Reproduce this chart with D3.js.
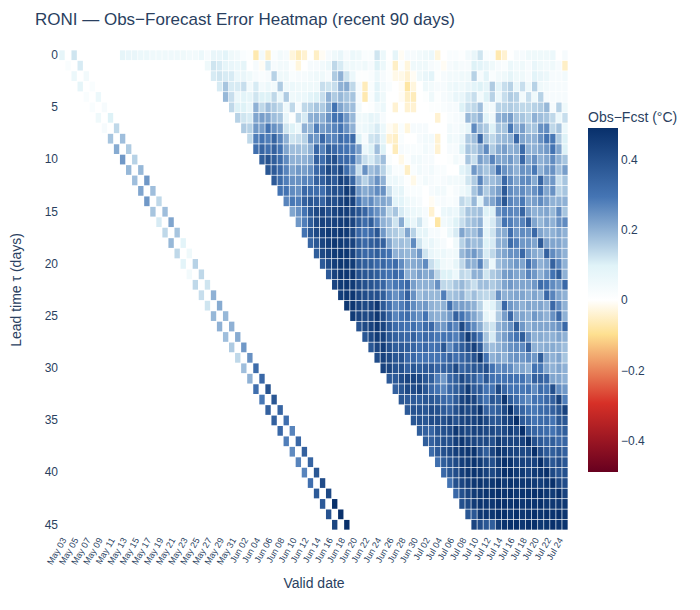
<!DOCTYPE html>
<html lang="en">
  <head>
    <meta charset="UTF-8" />
    <title>RONI Obs-Forecast Error Heatmap</title>
    <script src="https://d3js.org/d3.v7.min.js"></script>
    <style>
      html,
      body {
        margin: 0;
        padding: 0;
        background-color: #fff;
      }
      svg text {
        font-family: "Liberation Sans", Arial, sans-serif;
        fill: #2a3f5f;
      }
      .domain {
        display: none;
      }
    </style>
  </head>
  <body>
    <svg id="chart" width="700" height="610"></svg>

    <script>
      const validDates = [
        "May 03", "May 04", "May 05", "May 06", "May 07", "May 08", "May 09", "May 10", "May 11", "May 12",
        "May 13", "May 14", "May 15", "May 16", "May 17", "May 18", "May 19", "May 20", "May 21", "May 22",
        "May 23", "May 24", "May 25", "May 26", "May 27", "May 28", "May 29", "May 30", "May 31", "Jun 01",
        "Jun 02", "Jun 03", "Jun 04", "Jun 05", "Jun 06", "Jun 07", "Jun 08", "Jun 09", "Jun 10", "Jun 11",
        "Jun 12", "Jun 13", "Jun 14", "Jun 15", "Jun 16", "Jun 17", "Jun 18", "Jun 19", "Jun 20", "Jun 21",
        "Jun 22", "Jun 23", "Jun 24", "Jun 25", "Jun 26", "Jun 27", "Jun 28", "Jun 29", "Jun 30", "Jul 01",
        "Jul 02", "Jul 03", "Jul 04", "Jul 05", "Jul 06", "Jul 07", "Jul 08", "Jul 09", "Jul 10", "Jul 11",
        "Jul 12", "Jul 13", "Jul 14", "Jul 15", "Jul 16", "Jul 17", "Jul 18", "Jul 19", "Jul 20", "Jul 21",
        "Jul 22", "Jul 23", "Jul 24", "Jul 25",
      ];
      const leadTicks = [0, 5, 10, 15, 20, 25, 30, 35, 40, 45];
      const barTicks = [-0.4, -0.2, 0, 0.2, 0.4];

      // Errors below are in hundredths of a degree.
      // The two old forecast runs, one value per lead
      const runMay03 = [
        8, 2, 6, 8, 2, 2, 5, 3, 17, 21, 24, 19, 18, 22, 24, 17, 11, 14, 19, 14, 9, 4, 14,
        13, 12, 19, 20, 18, 16, 14, 18, 20, 31, 29, 35, 35, 33, 28, 26, 27, 27, 31, 37, 37, 39, 43,
      ];
      const runMay05 = [
        12, 11, 4, 2, 6, 3, 10, 14, 18, 16, 15, 19, 24, 18, 14, 18, 22, 17, 9, 5, 15, 14, 12,
        20, 21, 19, 20, 21, 24, 25, 32, 33, 39, 38, 34, 31, 27, 33, 35, 34, 38, 41, 42, 49, 49, 49,
      ];
      // Recent runs: one list per lead, the last value of each falls on the last date
      const leadRows = [
        [8,7,7,6,6,5,5,5,5,5,5,4,4,6,3,7,7,9,5,4,2,1,-7,4,-5,2,4,3,-3,-6,-4,0,-5,-1,3,5,7,3,6,5,2,2,12,6,0,8,-1,3,3,4,5,6,-3,0,2,2,1,4,7,12,2,2,-7,-4,0,3,3,5,5,5,5,6,0,3],
        [5,12,11,8,7,6,8,0,3,-1,11,3,4,4,1,-3,0,3,3,4,6,14,11,5,5,4,5,3,10,6,1,-5,1,-3,5,5,5,3,2,-1,3,4,3,3,10,9,7,5,3,2,6,4,5,3,7,5,4,5,3,-5],
        [11,12,11,11,6,7,5,3,2,3,15,5,5,2,3,3,4,5,5,3,16,20,12,6,1,1,2,6,3,1,-2,-2,-4,-1,5,7,9,1,3,4,4,5,5,15,3,9,2,4,5,8,5,5,3,9,7,6,3,3,4],
        [11,17,11,11,13,4,11,4,6,4,16,5,6,5,5,5,5,13,12,13,20,21,14,3,-6,2,9,4,2,0,-1,-8,-3,0,5,4,3,3,5,6,5,7,9,10,8,16,9,13,15,7,13,5,15,5,4,3,3,3],
        [19,13,6,9,8,12,10,10,14,6,16,5,6,6,9,10,13,20,16,19,17,17,3,-7,2,9,5,0,0,-1,-5,-6,0,1,5,1,3,4,7,7,11,13,4,10,15,6,13,16,15,4,13,5,15,3,3,3,3],
        [14,10,10,7,20,14,18,16,14,5,14,3,14,15,17,16,21,30,22,19,18,4,0,1,4,6,0,-4,0,-4,-4,0,0,1,1,2,3,3,10,13,14,18,5,4,15,15,16,15,14,14,15,16,19,3,15,5],
        [15,12,11,22,23,22,18,17,7,1,14,11,20,21,20,25,30,30,24,19,5,5,8,7,3,0,0,0,0,0,0,0,0,-4,0,2,3,4,19,17,20,9,5,20,21,23,17,17,15,20,18,17,14,6,13],
        [16,15,24,23,30,25,23,12,10,6,20,19,28,23,25,27,30,25,20,5,6,8,11,6,-1,-3,2,-3,3,3,3,0,0,0,4,3,5,8,26,18,16,10,17,17,29,20,23,17,17,25,26,14,17,6],
        [14,28,30,28,34,27,20,12,13,15,25,24,33,27,27,32,30,32,10,3,12,13,8,-4,-5,2,0,0,3,4,4,-4,0,5,4,7,16,18,33,17,14,18,19,20,33,22,20,20,25,30,29,16,10],
        [31,34,31,35,30,22,18,18,17,20,33,27,36,33,31,30,28,23,6,10,18,10,0,-6,3,2,2,2,4,3,-4,0,3,3,10,17,16,20,26,16,21,23,20,21,32,20,20,22,24,30,22,10],
        [36,39,36,32,26,20,20,20,22,35,31,38,40,33,33,30,20,13,11,15,18,2,0,-2,1,4,4,3,3,0,0,1,4,3,17,13,23,20,27,22,22,24,20,33,22,25,20,22,26,20,17],
        [38,37,33,27,22,24,23,25,33,35,42,38,42,32,25,13,25,18,20,15,7,2,2,-5,2,4,3,4,2,2,0,0,9,11,24,20,17,20,31,25,23,20,25,24,29,20,24,25,18,23],
        [37,32,28,25,25,27,27,35,35,40,37,44,42,34,20,15,20,25,20,6,6,4,1,-2,2,4,3,2,3,4,4,5,12,16,27,18,18,20,33,26,22,26,26,21,34,23,24,13,17],
        [30,30,26,25,33,32,32,31,38,40,40,46,42,24,21,23,26,25,13,7,8,2,2,2,0,3,4,4,1,3,5,8,17,23,16,20,23,37,26,24,26,23,25,30,22,25,15,17],
        [27,29,28,35,38,37,34,41,40,43,46,44,29,24,26,22,22,20,9,9,5,4,3,0,-1,2,3,2,3,14,12,19,9,20,22,27,38,27,25,29,22,23,26,23,20,20,20],
        [22,25,30,38,42,43,40,43,45,45,42,38,34,28,25,22,14,17,11,7,6,5,3,-4,0,6,7,6,12,17,17,18,10,10,25,28,27,26,34,23,20,21,22,19,26,17],
        [24,28,36,42,44,43,44,45,46,43,36,32,36,27,20,18,12,21,10,7,12,4,0,-8,4,6,10,13,17,18,20,7,11,18,30,28,25,27,35,22,19,22,20,25,26],
        [30,38,42,44,46,45,47,46,42,33,30,33,38,24,17,16,14,22,15,8,8,3,3,1,6,11,22,18,18,23,9,12,20,21,31,24,26,25,33,22,20,20,22,20],
        [34,38,43,45,47,46,45,44,36,33,36,37,35,22,17,18,17,26,12,6,7,4,3,0,5,15,20,18,19,10,11,20,21,32,28,24,24,22,37,23,22,22,20],
        [36,42,44,46,47,47,44,36,33,34,36,32,30,20,20,19,20,24,12,7,5,6,4,5,19,22,24,20,11,14,20,22,25,25,33,24,21,20,35,26,23,20],
        [37,42,45,47,47,46,38,36,36,33,34,30,32,26,21,21,22,26,13,10,5,4,8,14,21,20,27,15,6,18,20,22,24,22,31,25,20,22,35,27,20],
        [37,44,47,47,47,40,38,38,36,32,30,33,30,20,20,23,21,22,14,10,10,6,14,13,20,20,12,16,18,23,24,22,22,27,24,20,24,30,36,20],
        [43,46,47,46,42,40,39,37,34,27,29,30,33,23,20,20,20,25,14,14,17,19,16,13,18,18,16,18,22,24,22,22,22,24,32,30,26,24,33],
        [45,47,47,43,41,40,40,36,28,25,28,35,25,18,20,19,19,28,17,18,20,15,18,15,14,15,25,20,21,22,22,20,22,20,33,27,22,20],
        [47,47,44,42,43,47,37,31,26,28,32,26,23,24,20,19,20,31,23,23,22,20,15,6,9,15,33,24,22,20,22,21,22,20,33,26,20],
        [46,44,42,43,47,41,34,27,30,32,27,25,30,21,20,21,24,35,30,26,22,18,8,5,16,23,33,22,22,20,24,22,20,25,33,20],
        [39,42,44,47,43,37,32,31,30,31,28,32,33,25,24,30,27,42,32,26,21,14,12,20,22,25,36,24,20,22,22,22,23,25,33],
        [38,42,46,44,38,35,34,33,35,30,33,31,29,30,30,28,36,46,37,30,17,11,20,23,27,30,36,25,20,21,20,20,22,20],
        [38,43,45,40,36,37,36,34,31,33,30,31,38,26,32,36,40,44,37,21,18,20,22,25,26,26,35,20,20,21,21,20,18],
        [41,44,42,38,39,33,33,30,30,30,30,31,35,31,34,36,39,47,30,20,22,20,24,25,24,26,24,36,22,20,22,17],
        [44,43,39,40,35,38,36,37,37,34,35,36,42,34,36,38,38,40,30,26,27,26,22,22,20,30,29,22,20,22,20],
        [37,37,41,43,43,42,38,36,28,24,33,36,42,38,36,30,38,30,30,30,31,30,30,26,35,35,33,22,22,20],
        [35,38,42,41,43,38,33,30,27,33,36,39,46,37,37,30,30,42,34,30,30,29,30,26,32,30,40,26,24],
        [38,37,37,36,38,38,36,33,32,37,43,45,43,36,30,38,36,47,36,32,28,26,30,30,33,35,44,28],
        [37,39,39,38,41,40,37,35,40,44,42,43,48,35,34,36,42,49,38,34,30,29,32,33,35,38,44],
        [38,39,38,41,41,40,43,40,43,44,44,46,42,38,38,43,44,49,37,34,30,32,33,30,38,38],
        [36,35,34,39,40,41,47,44,42,44,44,42,42,40,42,45,42,49,36,34,33,32,30,34,36],
        [36,35,38,40,40,45,47,44,43,42,42,40,46,43,43,43,44,49,40,37,35,36,33,34],
        [32,37,40,42,45,46,47,48,41,36,43,48,46,44,43,42,42,49,41,37,36,38,35],
        [31,36,39,42,45,46,48,46,42,40,46,49,48,44,44,43,44,49,42,38,41,38],
        [33,38,41,45,47,48,47,44,42,45,49,49,46,46,43,46,47,49,42,39,40],
        [30,40,43,45,47,48,46,47,49,46,48,47,47,47,46,45,47,49,43,41],
        [33,40,43,46,47,48,48,49,48,49,47,48,48,49,49,47,46,49,44],
        [40,42,46,48,47,47,49,49,48,49,47,48,48,49,47,47,47,47],
        [38,38,47,47,47,49,49,47,49,47,48,49,48,49,48,49,48],
        [43,41,38,36,46,48,49,49,47,49,49,47,48,49,48,48],
      ];
      const colorValues = [-0.49, -0.294, -0.098, 0, 0.098, 0.294, 0.49];
      const colorRange = ["#67001f", "#d73027", "#fee090", "#ffffff", "#e0f3f8", "#4575b4", "#08306b"];

      const svg = d3.select("#chart");

      const xScale = d3.scaleBand().domain(validDates).range([59, 568]);
      const yScale = d3.scaleBand().domain(d3.range(leadRows.length)).range([50, 530]);
      const colorScale = d3.scaleLinear().domain(colorValues).range(colorRange).clamp(true);

      // Flatten everything into cells
      const cells = [];
      leadRows.forEach((row, lead) => {
        const offset = validDates.length - row.length;
        row.forEach((value, i) => cells.push({ date: validDates[offset + i], lead, value }));
      });
      runMay03.forEach((value, lead) => cells.push({ date: validDates[lead], lead, value }));
      runMay05.forEach((value, lead) => cells.push({ date: validDates[lead + 2], lead, value }));

      const gap = 0.35; // half of the soft white line between cells

      svg
        .append("g")
        .selectAll("rect")
        .data(cells)
        .enter()
        .append("rect")
        .attr("x", (d) => xScale(d.date) + gap)
        .attr("y", (d) => yScale(d.lead) + gap)
        .attr("width", xScale.bandwidth() - 2 * gap)
        .attr("height", yScale.bandwidth() - 2 * gap)
        .attr("fill", (d) => colorScale(d.value / 100));

      // Axes
      const xAxis = svg
        .append("g")
        .attr("transform", "translate(0,530)")
        .call(
          d3
            .axisBottom(xScale)
            .tickValues(validDates.filter((d, i) => i % 2 === 0))
            .tickSize(0)
            .tickPadding(0)
        );
      xAxis
        .selectAll("text")
        .attr("font-size", 9)
        .attr("text-anchor", "end")
        .attr("y", 0)
        .attr("dy", 0)
        .attr("transform", "translate(4.7,10) rotate(-60)");

      const yAxis = svg
        .append("g")
        .attr("transform", "translate(59,0)")
        .call(d3.axisLeft(yScale).tickValues(leadTicks).tickSize(0).tickPadding(1));
      yAxis.selectAll("text").attr("font-size", 12);

      svg
        .append("text")
        .attr("x", 35)
        .attr("y", 25)
        .attr("font-size", 17)
        .text("RONI — Obs−Forecast Error Heatmap (recent 90 days)");

      svg
        .append("text")
        .attr("x", 314)
        .attr("y", 588)
        .attr("text-anchor", "middle")
        .attr("font-size", 14)
        .text("Valid date");

      svg
        .append("text")
        .attr("transform", "translate(21,290) rotate(-90)")
        .attr("text-anchor", "middle")
        .attr("font-size", 14)
        .text("Lead time τ (days)");

      // Colorbar
      const barScale = d3.scaleLinear().domain([-0.49, 0.49]).range([472, 128]);
      const gradient = svg
        .append("defs")
        .append("linearGradient")
        .attr("id", "bar-gradient")
        .attr("x1", 0)
        .attr("y1", 1)
        .attr("x2", 0)
        .attr("y2", 0);
      gradient
        .selectAll("stop")
        .data(colorValues)
        .enter()
        .append("stop")
        .attr("offset", (d) => (d + 0.49) / 0.98)
        .attr("stop-color", (d) => colorScale(d));

      svg
        .append("rect")
        .attr("x", 588)
        .attr("y", 128)
        .attr("width", 30)
        .attr("height", 344)
        .attr("fill", "url(#bar-gradient)");

      const barAxis = svg
        .append("g")
        .attr("transform", "translate(618,0)")
        .call(
          d3
            .axisRight(barScale)
            .tickValues(barTicks)
            .tickSize(0)
            .tickPadding(3)
            .tickFormat((d) => (d === 0 ? "0" : d3.format(".1f")(d).replace("-", "−")))
        );
      barAxis.selectAll("text").attr("font-size", 12);

      svg
        .append("text")
        .attr("x", 588)
        .attr("y", 122)
        .attr("font-size", 14)
        .text("Obs−Fcst (°C)");
    </script>
  </body>
</html>
